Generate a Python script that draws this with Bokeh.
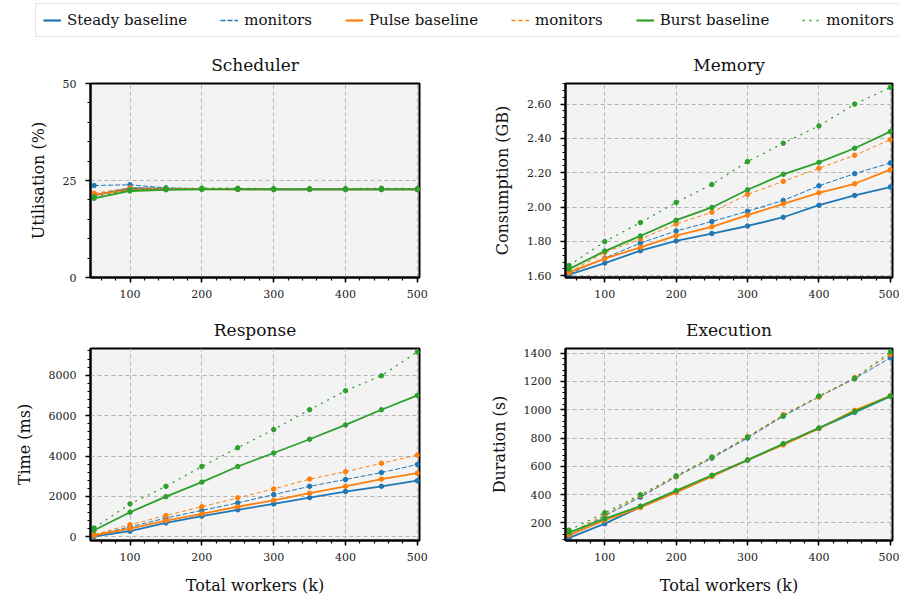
import math
from bokeh.plotting import figure
from bokeh.models import (Range1d, FixedTicker, PrintfTickFormatter, Legend, LegendItem)
from bokeh.layouts import column, row
from bokeh.embed import file_html
from bokeh.resources import INLINE

# ---------------- data ----------------
workers = [50, 100, 150, 200, 250, 300, 350, 400, 450, 500]

series_names = ["Steady baseline", "monitors", "Pulse baseline", "monitors", "Burst baseline", "monitors"]

sched_steady_base = [21.2, 23.0, 22.9, 22.8, 22.8, 22.7, 22.7, 22.7, 22.7, 22.7]
sched_steady_mon = [23.7, 23.9, 23.1, 22.9, 22.9, 22.8, 22.8, 22.8, 22.8, 22.8]
sched_pulse_base = [21.3, 22.6, 22.8, 22.8, 22.7, 22.7, 22.7, 22.7, 22.7, 22.7]
sched_pulse_mon = [21.7, 23.1, 22.9, 22.9, 22.8, 22.8, 22.8, 22.8, 22.7, 22.7]
sched_burst_base = [20.4, 22.3, 22.6, 22.7, 22.7, 22.7, 22.7, 22.7, 22.7, 22.7]
sched_burst_mon = [20.8, 22.6, 22.9, 23.0, 23.0, 22.9, 22.9, 22.9, 23.0, 22.9]

mem_steady_base = [1.606, 1.674, 1.746, 1.803, 1.846, 1.890, 1.941, 2.011, 2.068, 2.117]
mem_steady_mon = [1.610, 1.703, 1.791, 1.861, 1.916, 1.976, 2.039, 2.124, 2.195, 2.257]
mem_pulse_base = [1.620, 1.700, 1.766, 1.834, 1.885, 1.953, 2.019, 2.083, 2.136, 2.218]
mem_pulse_mon = [1.620, 1.736, 1.814, 1.902, 1.970, 2.074, 2.150, 2.226, 2.302, 2.393]
mem_burst_base = [1.639, 1.744, 1.832, 1.924, 1.998, 2.101, 2.191, 2.261, 2.343, 2.440]
mem_burst_mon = [1.660, 1.799, 1.910, 2.027, 2.132, 2.265, 2.372, 2.473, 2.600, 2.697]

resp_steady_base = [30, 280, 690, 1030, 1340, 1630, 1940, 2240, 2500, 2780]
resp_steady_mon = [80, 490, 930, 1310, 1680, 2090, 2500, 2840, 3180, 3580]
resp_pulse_base = [80, 410, 800, 1140, 1490, 1810, 2160, 2500, 2860, 3150]
resp_pulse_mon = [110, 600, 1060, 1490, 1930, 2370, 2860, 3220, 3640, 4050]
resp_burst_base = [330, 1220, 1990, 2710, 3480, 4150, 4830, 5540, 6290, 7000]
resp_burst_mon = [440, 1630, 2500, 3480, 4410, 5310, 6290, 7230, 7970, 9150]

exec_steady_base = [95, 195, 312, 419, 530, 643, 757, 870, 982, 1095]
exec_steady_mon = [110, 250, 382, 526, 658, 800, 955, 1092, 1220, 1367]
exec_pulse_base = [114, 219, 310, 416, 528, 645, 752, 868, 996, 1098]
exec_pulse_mon = [125, 258, 393, 528, 664, 810, 965, 1090, 1228, 1391]
exec_burst_base = [132, 230, 319, 428, 537, 645, 760, 871, 988, 1097]
exec_burst_mon = [149, 272, 400, 533, 666, 806, 957, 1097, 1222, 1409]

x_ticks = [100, 200, 300, 400, 500]
sched_ticks = [0, 25, 50]
mem_ticks = [1.6, 1.8, 2.0, 2.2, 2.4, 2.6]
resp_ticks = [0, 2000, 4000, 6000, 8000]
exec_ticks = [200, 400, 600, 800, 1000, 1200, 1400]

# ---------------- style ----------------
FONT = "DejaVu Serif"
BLUE, ORANGE, GREEN = "#1f77b4", "#ff7f0e", "#2ca02c"
styles = [
    dict(color=BLUE, dash="solid", width=1.8),
    dict(color=BLUE, dash="5 2", width=1.0),
    dict(color=ORANGE, dash="solid", width=1.8),
    dict(color=ORANGE, dash="4 3", width=1.0),
    dict(color=GREEN, dash="solid", width=1.8),
    dict(color=GREEN, dash="2 5", width=1.3),
]


def minor(lo, hi, step):
    n = int(round((hi - lo) / step))
    return [lo + i * step for i in range(n + 1)]


def make_panel(title, ylabel, yrange, yticks, yminor, series, width, height,
               bl, br, bt, bb, xlabel=None, fmt=None):
    p = figure(width=width, height=height, output_backend="svg", toolbar_location=None,
               x_range=Range1d(45, 503), y_range=Range1d(*yrange),
               min_border_left=bl, min_border_right=br, min_border_top=bt, min_border_bottom=bb)
    p.title.text = title
    p.title.align = "center"
    p.title.text_font = FONT
    p.title.text_font_size = "17px"
    p.title.text_font_style = "normal"
    p.title.text_color = "#111111"
    p.title.standoff = 17
    p.background_fill_color = "#f3f3f3"
    p.border_fill_color = "white"
    p.outline_line_color = "black"
    p.outline_line_width = 2
    p.outline_line_alpha = 1

    p.xaxis.ticker = FixedTicker(ticks=x_ticks, minor_ticks=minor(0, 520, 20))
    p.yaxis.ticker = FixedTicker(ticks=yticks, minor_ticks=yminor)
    if fmt:
        p.yaxis.formatter = PrintfTickFormatter(format=fmt)
    for ax in (p.xaxis, p.yaxis):
        ax.axis_line_color = "black"
        ax.axis_line_width = 2
        ax.major_tick_line_color = "black"
        ax.major_tick_line_width = 1.5
        ax.major_tick_out = 5
        ax.major_tick_in = 0
        ax.minor_tick_line_color = "black"
        ax.minor_tick_line_width = 1.2
        ax.minor_tick_out = 3
        ax.minor_tick_in = 0
        ax.major_label_text_font = FONT
        ax.major_label_text_font_size = "11px"
        ax.major_label_text_color = "#222222"
        ax.axis_label_text_font = FONT
        ax.axis_label_text_font_size = "16px"
        ax.axis_label_text_font_style = "normal"
        ax.axis_label_text_color = "#111111"
    p.xaxis.major_label_standoff = 7
    p.yaxis.major_label_standoff = 9
    p.yaxis.axis_label = ylabel
    p.yaxis.axis_label_standoff = 12
    if xlabel:
        p.xaxis.axis_label = xlabel
        p.xaxis.axis_label_standoff = 12

    for g in (p.xgrid, p.ygrid):
        g.grid_line_color = "#b5b5b5"
        g.grid_line_dash = "4 3"
        g.grid_line_width = 1

    for ys, st in zip(series, styles):
        p.line(workers, ys, line_color=st["color"], line_dash=st["dash"], line_width=st["width"])
        p.scatter(workers, ys, size=4.5, marker="circle", fill_color=st["color"], line_color=st["color"])
    return p


LW, RW = 450, 449
TH, BH = 265, 292

p1 = make_panel("Scheduler", "Utilisation (%)", (0, 50), sched_ticks, minor(0, 50, 5),
                [sched_steady_base, sched_steady_mon, sched_pulse_base, sched_pulse_mon,
                 sched_burst_base, sched_burst_mon],
                LW, TH, 90, 31, 43, 28)
p2 = make_panel("Memory", "Consumption (GB)", (1.59, 2.72), mem_ticks, minor(1.56, 2.76, 0.04),
                [mem_steady_base, mem_steady_mon, mem_pulse_base, mem_pulse_mon,
                 mem_burst_base, mem_burst_mon],
                RW, TH, 115, 7, 43, 28, fmt="%.2f")
p3 = make_panel("Response", "Time (ms)", (-180, 9320), resp_ticks, minor(0, 9600, 400),
                [resp_steady_base, resp_steady_mon, resp_pulse_base, resp_pulse_mon,
                 resp_burst_base, resp_burst_mon],
                LW, BH, 90, 31, 43, 55, xlabel="Total workers (k)")
p4 = make_panel("Execution", "Duration (s)", (76, 1433), exec_ticks, minor(80, 1440, 40),
                [exec_steady_base, exec_steady_mon, exec_pulse_base, exec_pulse_mon,
                 exec_burst_base, exec_burst_mon],
                RW, BH, 115, 7, 43, 55, xlabel="Total workers (k)")

# ---------------- legend strip ----------------
lg = figure(width=899, height=40, output_backend="svg", toolbar_location=None,
            x_range=Range1d(0, 1), y_range=Range1d(0, 1),
            min_border=0, min_border_left=0, min_border_right=0, min_border_top=0, min_border_bottom=0)
lg.axis.visible = False
lg.grid.visible = False
lg.outline_line_color = None
items = []
for name, st in zip(series_names, styles):
    r = lg.line([0, 1], [-5, -5], line_color=st["color"], line_dash=st["dash"], line_width=st["width"] + 0.4)
    items.append(LegendItem(label=name, renderers=[r]))
legend = Legend(items=items, orientation="horizontal", location=(35, 3),
                label_text_font=FONT, label_text_font_size="15px", label_text_color="#111111",
                glyph_width=18, glyph_height=14, label_standoff=6, spacing=33,
                padding=7, margin=0,
                border_line_color="#cccccc", border_line_width=1.5,
                background_fill_color="white")
lg.add_layout(legend, "center")

layout = column(lg, row(p1, p2), row(p3, p4))

open("out.html", "w").write(file_html(layout, INLINE))
